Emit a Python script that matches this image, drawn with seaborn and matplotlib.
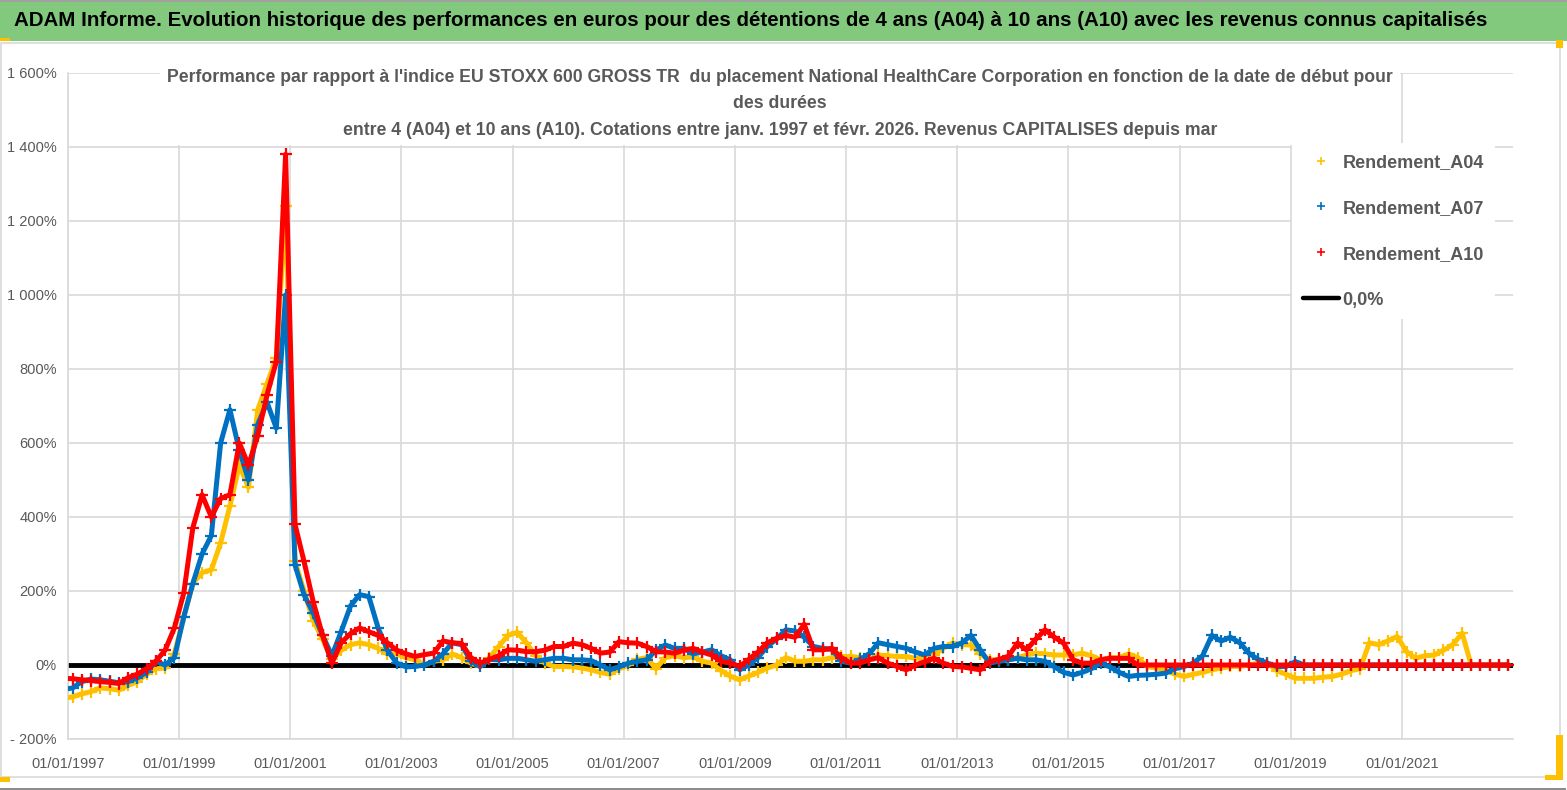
import pandas as pd
import seaborn as sns
import matplotlib.pyplot as plt
from matplotlib.lines import Line2D
from matplotlib.patches import Rectangle
from matplotlib.ticker import FuncFormatter, MultipleLocator

# one point every two months, Dec 1996 .. Dec 2022 (6 values per row = one year)
dates = pd.date_range("1996-12-01", "2022-12-01", freq="2MS")

rend_a04 = [
    -90, -86, -78, -72, -62, -64,      # 1997
    -68, -55, -45, -25, -10, -8,       # 1998
    30, 130, 220, 250, 257, 330,       # 1999
    430, 540, 480, 690, 760, 830,      # 2000
    1240, 280, 200, 120, 70, 15,       # 2001
    40, 55, 60, 55, 45, 30,            # 2002
    30, 20, 14, 0, 10, 14,             # 2003
    30, 20, 5, -4, 20, 50,             # 2004
    80, 88, 60, 25, 5, -4,             # 2005
    -4, -5, -8, -13, -20, -25,         # 2006
    -10, 0, 15, 20, -10, 20,           # 2007
    25, 20, 22, 10, 5, -15,            # 2008
    -30, -40, -30, -20, -8, 0,         # 2009
    20, 10, 10, 14, 14, 20,            # 2010
    23, 23, 20, 14, 27, 25,            # 2011
    23, 23, 18, 20, 27, 45,            # 2012
    59, 55, 54, 30, 14, 14,            # 2013
    14, 20, 27, 32, 30, 27,            # 2014
    27, 27, 32, 25, 14, 20,            # 2015
    20, 30, 20, -4, -8, -13,           # 2016
    -25, -31, -25, -20, -13, -8,       # 2017
    -4, -4, 0, 5, 5, -15,              # 2018
    -25, -36, -36, -36, -33, -31,      # 2019
    -25, -15, -10, 60, 55, 65,         # 2020
    77, 36, 18, 25, 27, 40,            # 2021
    55, 86, 0, 0, 0, 0,                # 2022
    0,
]

rend_a07 = [
    -66, -62, -45, -38, -40, -44,
    -48, -45, -35, -20, 10, 0,
    20, 130, 220, 300, 350, 600,
    690, 580, 500, 650, 710, 640,
    1000, 270, 190, 140, 80, 25,
    90, 160, 190, 185, 100, 40,
    5, -5, -4, 0, 10, 30,
    60, 55, 10, -4, 15, 14,
    18, 18, 14, 10, 14, 18,
    18, 14, 14, 12, 0, -13,
    -5, 5, 10, 14, 40, 54,
    45, 45, 30, 35, 41, 25,
    14, -13, 0, 20, 50, 70,
    95, 92, 75, 50, 45, 42,
    10, 5, 15, 30, 60, 55,
    50, 45, 35, 27, 45, 50,
    50, 60, 80, 41, 5, 10,
    14, 18, 14, 14, 10, -5,
    -20, -27, -20, -10, 5, -5,
    -20, -31, -28, -27, -25, -22,
    -10, -4, 5, 25, 80, 65,
    75, 60, 32, 15, 5, -4,
    -4, 9, 0, 0, 0, 0,
    0, 0, 0, 0, 0, 0,
    0, 0, 0, 0, 0, 0,
    0, 0, 0, 0, 0, 0,
    0,
]

rend_a10 = [
    -36, -37, -40, -42, -45, -47,
    -50, -34, -25, -10, 10, 40,
    100, 195, 370, 460, 400, 450,
    460, 600, 540, 620, 730, 820,
    1380, 380, 280, 170, 80, 5,
    60, 85, 100, 90, 80, 60,
    40, 30, 23, 28, 32, 65,
    60, 58, 20, 5, 15, 25,
    41, 40, 36, 36, 40, 50,
    50, 59, 55, 45, 32, 35,
    63, 60, 59, 50, 36, 35,
    32, 40, 45, 35, 27, 10,
    5, -4, 15, 35, 60, 72,
    80, 75, 110, 41, 41, 45,
    20, 5, 5, 14, 20, 5,
    -4, -13, 0, 9, 18, 5,
    -4, -5, -9, -13, 9, 15,
    23, 59, 41, 70, 95, 75,
    59, 14, 5, 5, 14, 18,
    18, 18, 0, 0, 0, 0,
    0, 0, 0, 0, 0, 0,
    0, 0, 0, 0, 0, 0,
    0, 0, 0, 0, 0, 0,
    0, 0, 0, 0, 0, 0,
    0, 0, 0, 0, 0, 0,
    0, 0, 0, 0, 0, 0,
    0,
]

series_names = ["Rendement_A04", "Rendement_A07", "Rendement_A10"]
series_colors = ["#FFC000", "#0070C0", "#FF0000"]
tick_dates = pd.date_range("1997-01-01", "2021-01-01", freq="2YS")

header = ("ADAM Informe. Evolution historique des performances en euros pour des détentions "
          "de 4 ans (A04) à 10 ans (A10) avec les revenus connus capitalisés")
title_lines = [
    "Performance par rapport à l'indice EU STOXX 600 GROSS TR  du placement National HealthCare "
    "Corporation en fonction de la date de début pour",
    "des durées",
    "entre 4 (A04) et 10 ans (A10). Cotations entre janv. 1997 et févr. 2026. Revenus CAPITALISES depuis mar",
]

sns.set_style("white")
plt.rcParams["font.family"] = ["Liberation Sans", "DejaVu Sans"]

W, H = 1567, 790
fig = plt.figure(figsize=(W / 100, H / 100), dpi=100)
ax = fig.add_axes([68 / W, 1 - 739 / H, (1513 - 68) / W, (739 - 73) / H])

ax.axhline(0, color="black", lw=3.5, zorder=2)
for vals, name, col in zip([rend_a04, rend_a07, rend_a10], series_names, series_colors):
    sns.lineplot(x=dates, y=vals, ax=ax, color=col, lw=3.6, marker="+", markersize=8,
                 markeredgewidth=1.6, markeredgecolor=col, zorder=3)

ax.set_xlim(pd.Timestamp("1997-01-01"), pd.Timestamp("2023-01-01"))
ax.set_ylim(-200, 1600)
ax.yaxis.set_major_locator(MultipleLocator(200))


def pct(v, pos):
    s = f"{abs(int(round(v))):,}".replace(",", " ")
    return f"- {s}%" if v < 0 else f"{s}%"


ax.yaxis.set_major_formatter(FuncFormatter(pct))
ax.set_xticks(tick_dates)
ax.set_xticklabels([d.strftime("%d/%m/%Y") for d in tick_dates])
ax.tick_params(axis="both", length=0, colors="#595959", labelsize=10.5)
ax.tick_params(axis="x", pad=13)
ax.tick_params(axis="y", pad=8)
ax.grid(True, color="#D9D9D9", lw=1.2)
ax.set_axisbelow(True)
for s in ["top", "right"]:
    ax.spines[s].set_visible(False)
for s in ["left", "bottom"]:
    ax.spines[s].set_color("#D9D9D9")
    ax.spines[s].set_linewidth(1.2)
ax.set_xlabel("")
ax.set_ylabel("")

# header banner and frame
fig.patches.append(Rectangle((0, 1 - 41 / H), 1, 39 / H, transform=fig.transFigure,
                             facecolor="#82C97E", edgecolor="none", zorder=0))
fig.patches.append(Rectangle((0, 1 - 2 / H), 1, 2 / H, transform=fig.transFigure,
                             facecolor="#A0A0A0", edgecolor="none", zorder=0))
fig.patches.append(Rectangle((1 / W, 1 - 777 / H), 1559 / W, 734 / H, transform=fig.transFigure,
                             facecolor="none", edgecolor="#D9D9D9", lw=1.2, zorder=0))
fig.patches.append(Rectangle((0, 0), 1 - 1 / W, 2 / H, transform=fig.transFigure,
                             facecolor="#8C8C8C", edgecolor="none", zorder=0))
for (x0, y0, w, h) in [(0, 38, 10, 3), (1556, 40, 7, 8), (0, 777, 10, 5),
                       (1556, 735, 7, 45), (1545, 775, 18, 5)]:
    fig.patches.append(Rectangle((x0 / W, 1 - (y0 + h) / H), w / W, h / H, transform=fig.transFigure,
                                 facecolor="#FFC000", edgecolor="none", zorder=1))

fig.text(14 / W, 1 - 21 / H, header, ha="left", va="center", fontsize=14.8, fontweight="bold",
         color="black")
fig.text(780 / W, 1 - 104 / H, "\n".join(title_lines), ha="center", va="center", fontsize=12.7,
         fontweight="bold", color="#595959", linespacing=1.7,
         bbox=dict(facecolor="white", edgecolor="none", pad=5))

handles = [Line2D([], [], ls="none", marker="+", color=c, markersize=6, markeredgewidth=1.2)
           for c in series_colors]
handles.append(Line2D([], [], color="black", lw=3.2))
leg = fig.legend(handles, series_names + ["0,0%"], loc="upper left",
                 bbox_to_anchor=(1283 / W, 1 - 134 / H), frameon=True, facecolor="white",
                 edgecolor="none", framealpha=1, fancybox=False, handlelength=2.0,
                 handletextpad=0.2, labelspacing=1.6, borderpad=0.6,
                 prop=dict(weight="bold", size=13), labelcolor="#595959")

fig.savefig("out.png", dpi=100, facecolor="white")
